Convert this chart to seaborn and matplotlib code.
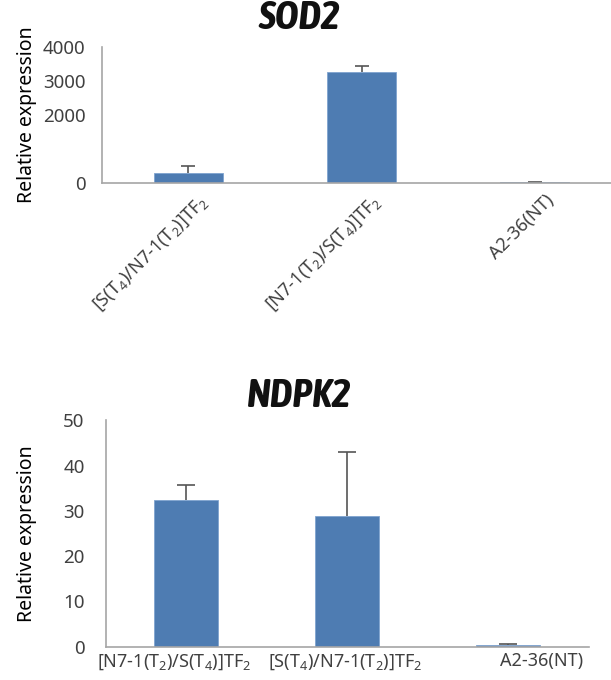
import matplotlib
matplotlib.use("Agg")
import matplotlib.pyplot as plt
import matplotlib.transforms as mtransforms
from matplotlib import font_manager
import seaborn as sns
import pandas as pd
import numpy as np

# SOD2 expression
sod2_labels = [r"[S(T$_4$)/N7-1(T$_2$)]TF$_2$",
               r"[N7-1(T$_2$)/S(T$_4$)]TF$_2$",
               "A2-36(NT)"]
sod2_values = [290, 3255, 30]
sod2_errors = [200, 175, 0]

# NDPK2 expression
ndpk2_labels = [r"[N7-1(T$_2$)/S(T$_4$)]TF$_2$",
                r"[S(T$_4$)/N7-1(T$_2$)]TF$_2$",
                "A2-36(NT)"]
ndpk2_values = [32.3, 28.9, 0.3]
ndpk2_errors = [3.3, 14.1, 0.4]

sns.set_theme(style="white")
plt.rcParams["font.family"] = ["Noto Sans", "DejaVu Sans"]
plt.rcParams["mathtext.default"] = "regular"

BAR = "#4E7CB2"
TXT = "#404040"
SPINE = "#A6A6A6"


def title_font(size):
    """Condensed bold italic face for the gene names."""
    narrow = [f for f in font_manager.fontManager.ttflist
              if "narrow" in f.name.lower() or "condensed" in f.name.lower()]
    for f in narrow:
        if f.style == "italic" and f.weight in (700, "bold"):
            return font_manager.FontProperties(fname=f.fname, size=size)
    return font_manager.FontProperties(family="Liberation Sans",
                                       weight="bold", style="italic",
                                       stretch="condensed", size=size * 0.9)


fig = plt.figure(figsize=(6.11, 6.8), dpi=100)
ax1 = fig.add_axes([0.1669, 0.7313, 0.8331, 0.2])
ax2 = fig.add_axes([0.1727, 0.049, 0.7905, 0.333])


def draw(ax, labels, values, errors, ylim, yticks, capsize):
    df = pd.DataFrame({"label": labels, "value": values})
    sns.barplot(data=df, x="label", y="value", color=BAR, width=0.4,
                saturation=1, errorbar=None, edgecolor="#7FA3CF",
                linewidth=0.6, ax=ax)
    xs = np.arange(len(values))
    # upper-only error bars: hide the caps at the bar tops
    eb = ax.errorbar(xs, values, yerr=[np.zeros(len(errors)), errors],
                     fmt="none", ecolor="#555555", elinewidth=1.2,
                     capsize=capsize, capthick=1.2)
    eb[1][0].set_visible(False)
    ax.set_ylim(*ylim)
    ax.set_yticks(yticks)
    ax.set_xlabel("")
    ax.set_ylabel("Relative expression", fontsize=14, color="black")
    for s in ("top", "right"):
        ax.spines[s].set_visible(False)
    for s in ("left", "bottom"):
        ax.spines[s].set_color(SPINE)
        ax.spines[s].set_linewidth(1.2)
    ax.tick_params(axis="both", length=0, labelsize=13.5, labelcolor=TXT)


draw(ax1, sod2_labels, sod2_values, sod2_errors, (0, 4000),
     [0, 2000, 3000, 4000], 5)
ax1.set_xlim(-0.5, 2.442)
ax1.tick_params(axis="y", pad=12)
ax1.yaxis.set_label_coords(-0.128, 0.5)
for t in ax1.get_xticklabels():
    t.set_rotation(45)
    t.set_ha("right")
    t.set_va("top")
    t.set_rotation_mode("anchor")
    t.set_fontsize(13)
    t.set_transform(t.get_transform() +
                    mtransforms.ScaledTranslation(10 / 100, -4 / 100,
                                                  fig.dpi_scale_trans))

draw(ax2, ndpk2_labels, ndpk2_values, ndpk2_errors, (0, 50),
     [0, 10, 20, 30, 40, 50], 6.5)
ax2.set_xlim(-0.5, 2.5)
ax2.tick_params(axis="y", pad=15)
ax2.tick_params(axis="x", pad=4)
ax2.yaxis.set_label_coords(-0.142, 0.5)
shifts = [-12, -2, 34]
for t, dx in zip(ax2.get_xticklabels(), shifts):
    t.set_fontsize(13)
    t.set_transform(t.get_transform() +
                    mtransforms.ScaledTranslation(dx / 100, 0,
                                                  fig.dpi_scale_trans))

tf = title_font(29)
fig.text(0.489, 0.974, "SOD2", ha="center", va="center", fontproperties=tf,
         color="#111111")
fig.text(0.489, 0.418, "NDPK2", ha="center", va="center", fontproperties=tf,
         color="#111111")

fig.savefig("out.png", dpi=100)
